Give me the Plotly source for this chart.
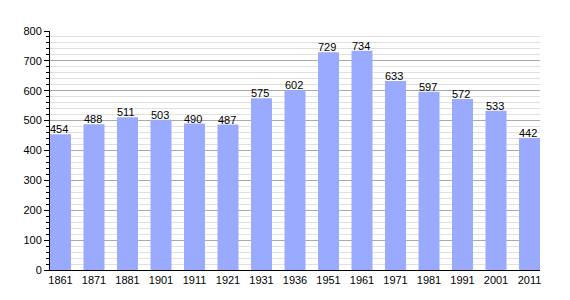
import plotly.graph_objects as go

years = ["1861", "1871", "1881", "1901", "1911", "1921", "1931", "1936",
         "1951", "1961", "1971", "1981", "1991", "2001", "2011"]
population = [454, 488, 511, 503, 490, 487, 575, 602, 729, 734, 633, 597, 572, 533, 442]

W = 0.627
xs = list(range(len(years)))

fig = go.Figure()
fig.add_trace(go.Bar(x=xs, y=population, width=W, marker=dict(color="#99AAFF", line=dict(width=0)),
                     hoverinfo="x+y"))

for i, v in enumerate(population):
    fig.add_annotation(x=i - W / 2, y=v, text=str(v), showarrow=False,
                       xanchor="left", yanchor="bottom", xshift=-2, yshift=-3,
                       font=dict(size=11, color="#000", family="Liberation Sans"))

fig.update_layout(
    width=570, height=300,
    margin=dict(l=50, r=30, t=31, b=30),
    paper_bgcolor="white", plot_bgcolor="white",
    showlegend=False,
    font=dict(family="Liberation Sans", size=11, color="#000"),
    xaxis=dict(range=[-W / 2, len(years) - 1 + W / 2], tickmode="array",
               tickvals=xs, ticktext=years, showline=True, linecolor="#000",
               linewidth=1, ticks="", showgrid=False, zeroline=False,
               tickfont=dict(size=11)),
    yaxis=dict(range=[0, 800], dtick=100, showline=True, linecolor="#000",
               linewidth=1, ticks="outside", ticklen=5, tickcolor="#000",
               gridcolor="#aaaaaa", gridwidth=1, zeroline=False,
               tickfont=dict(size=11),
               minor=dict(dtick=20, ticks="outside", ticklen=3, tickcolor="#000",
                          showgrid=True, gridcolor="#e0e0e0", gridwidth=1)),
)

fig.write_html("out.html")
